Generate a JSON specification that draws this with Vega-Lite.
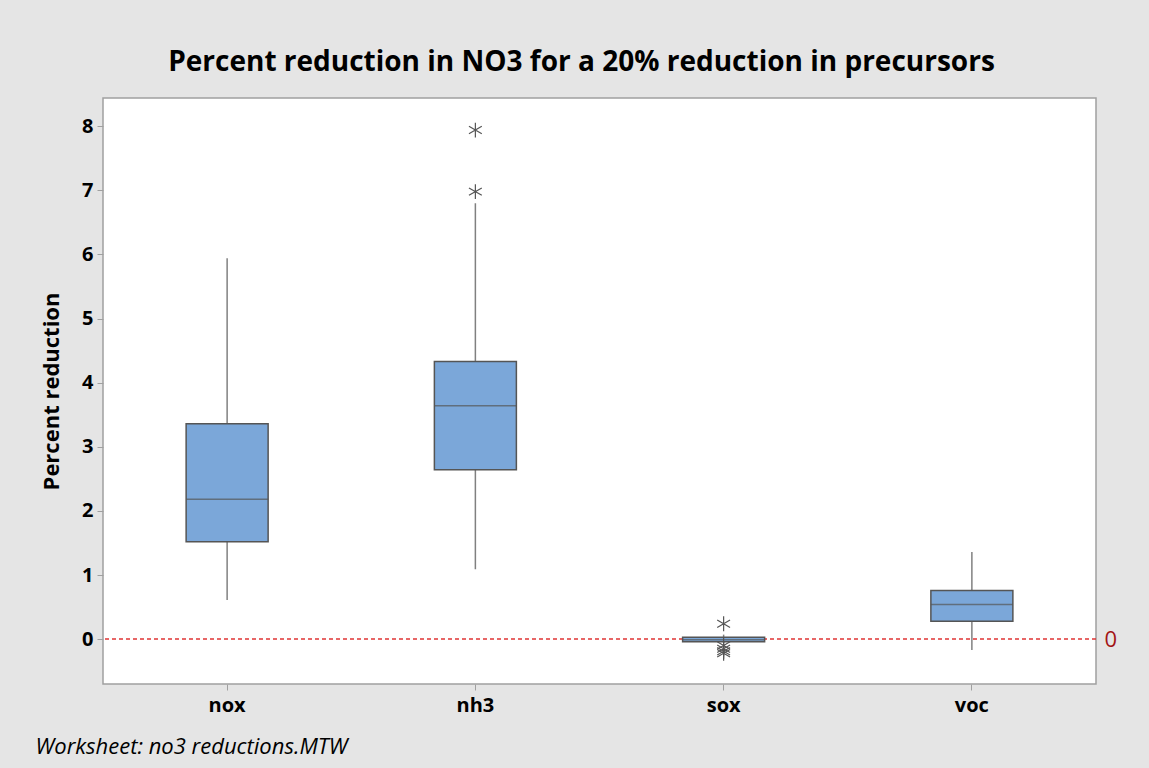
{
  "$schema": "https://vega.github.io/schema/vega-lite/v6.json",
  "width": 993,
  "height": 586,
  "autosize": {"type": "none"},
  "padding": {"left": 103, "top": 98, "right": 53, "bottom": 84},
  "background": "#e5e5e5",
  "config": {
    "font": "Open Sans",
    "view": {"fill": "white", "stroke": "#a0a0a0", "strokeWidth": 1.5}
  },
  "title": {
    "text": "Percent reduction in NO3 for a 20% reduction in precursors",
    "fontSize": 28,
    "fontWeight": "bold",
    "color": "black",
    "anchor": "middle",
    "frame": "group",
    "baseline": "alphabetic",
    "offset": 26,
    "dx": -18,
    "dy": 27
  },
  "datasets": {
    "boxes": [
      {"precursor": "nox", "whisker_low": 0.61, "q1": 1.52, "median": 2.18, "q3": 3.36, "whisker_high": 5.94},
      {"precursor": "nh3", "whisker_low": 1.09, "q1": 2.64, "median": 3.64, "q3": 4.33, "whisker_high": 6.80},
      {"precursor": "sox", "whisker_low": -0.06, "q1": -0.04, "median": -0.01, "q3": 0.03, "whisker_high": 0.07},
      {"precursor": "voc", "whisker_low": -0.17, "q1": 0.28, "median": 0.54, "q3": 0.76, "whisker_high": 1.36}
    ],
    "outliers": [
      {"precursor": "nh3", "value": 7.94},
      {"precursor": "nh3", "value": 6.98},
      {"precursor": "sox", "value": 0.24},
      {"precursor": "sox", "value": -0.1},
      {"precursor": "sox", "value": -0.15},
      {"precursor": "sox", "value": -0.19},
      {"precursor": "sox", "value": -0.22}
    ],
    "reference": [{"level": 0}]
  },
  "resolve": {"axis": {"y": "independent"}},
  "layer": [
    {
      "data": {"name": "reference"},
      "mark": {"type": "rule", "color": "#e03434", "strokeWidth": 1.5, "strokeDash": [4, 3]},
      "encoding": {
        "y": {
          "field": "level",
          "type": "quantitative",
          "scale": {"domain": [-0.7, 8.44], "nice": false, "zero": false},
          "axis": {
            "orient": "right",
            "values": [0],
            "title": null,
            "grid": false,
            "domain": false,
            "ticks": false,
            "labelColor": "#a31515",
            "labelFontSize": 22,
            "labelFontWeight": "normal",
            "labelPadding": 8
          }
        }
      }
    },
    {
      "data": {"name": "boxes"},
      "mark": {"type": "rule", "color": "#808080", "strokeWidth": 1.5},
      "encoding": {
        "x": {
          "field": "precursor",
          "type": "nominal",
          "sort": ["nox", "nh3", "sox", "voc"],
          "scale": {"paddingInner": 0, "paddingOuter": 0},
          "axis": {
            "labelAngle": 0,
            "labelFontSize": 20,
            "labelFontWeight": "bold",
            "labelColor": "black",
            "labelPadding": 5,
            "domain": false,
            "tickColor": "#a0a0a0",
            "tickSize": 6,
            "title": "Worksheet: no3 reductions.MTW",
            "titleFontSize": 22,
            "titleFontStyle": "italic",
            "titleFontWeight": "normal",
            "titleColor": "black",
            "titleAnchor": "start",
            "titleAlign": "left",
            "titleBaseline": "alphabetic",
            "titleX": -68,
            "titleY": 69
          }
        },
        "y": {
          "field": "whisker_low",
          "type": "quantitative",
          "scale": {"domain": [-0.7, 8.44], "nice": false, "zero": false},
          "axis": {
            "values": [0, 1, 2, 3, 4, 5, 6, 7, 8],
            "grid": false,
            "domain": false,
            "tickColor": "#a0a0a0",
            "tickSize": 6,
            "labelFontSize": 20,
            "labelFontWeight": "bold",
            "labelColor": "black",
            "labelPadding": 4,
            "title": "Percent reduction",
            "titleFontSize": 22,
            "titleFontWeight": "bold",
            "titleColor": "black",
            "titlePadding": 18
          }
        },
        "y2": {"field": "whisker_high"}
      }
    },
    {
      "data": {"name": "boxes"},
      "mark": {"type": "bar", "size": 82, "fill": "#7ba7d9", "stroke": "#555555", "strokeWidth": 1.5},
      "encoding": {
        "x": {"field": "precursor", "type": "nominal", "sort": ["nox", "nh3", "sox", "voc"]},
        "y": {"field": "q1", "type": "quantitative", "axis": null},
        "y2": {"field": "q3"}
      }
    },
    {
      "data": {"name": "boxes"},
      "mark": {"type": "tick", "size": 82, "color": "#555555", "thickness": 1.5},
      "encoding": {
        "x": {"field": "precursor", "type": "nominal", "sort": ["nox", "nh3", "sox", "voc"]},
        "y": {"field": "median", "type": "quantitative", "axis": null}
      }
    },
    {
      "data": {"name": "outliers"},
      "mark": {
        "type": "point",
        "shape": "M0,-1L0,1M-0.866,-0.5L0.866,0.5M-0.866,0.5L0.866,-0.5",
        "filled": false,
        "size": 220,
        "stroke": "#555555",
        "strokeWidth": 1.2,
        "opacity": 1
      },
      "encoding": {
        "x": {"field": "precursor", "type": "nominal", "sort": ["nox", "nh3", "sox", "voc"]},
        "y": {"field": "value", "type": "quantitative", "axis": null}
      }
    }
  ]
}
